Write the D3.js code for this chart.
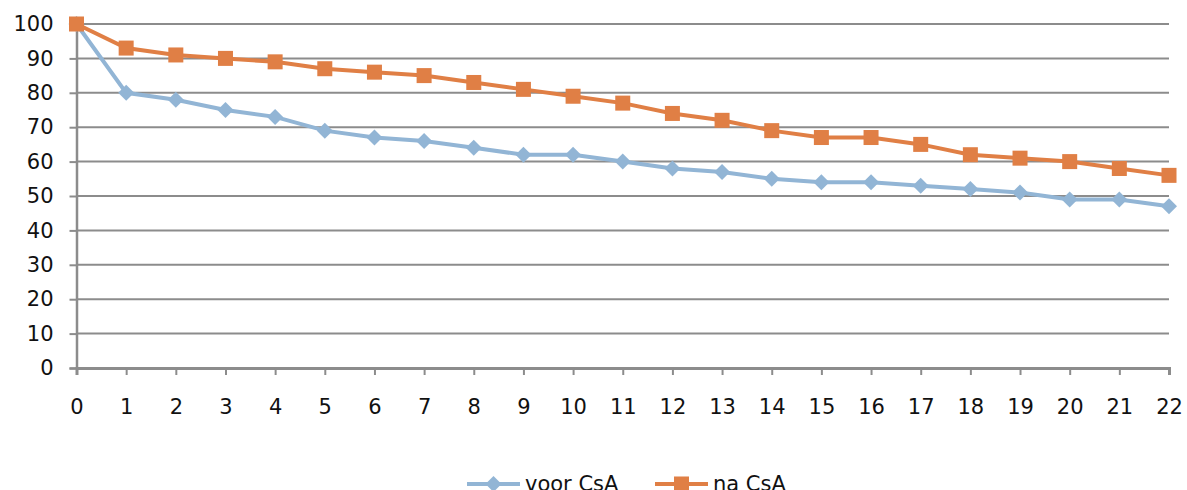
<!DOCTYPE html>
<html>
<head>
<meta charset="utf-8">
<script src="https://cdn.jsdelivr.net/npm/d3@7"></script>
<style>
  html, body { margin: 0; padding: 0; background: #fff; overflow: hidden; }
  svg text { font-family: "DejaVu Sans", "Lato", sans-serif; fill: #111; }
</style>
</head>
<body>
<svg id="chart" width="1187" height="490"></svg>
<script>
// Maanden na start
const months = d3.range(0, 23);
const yTicks = [0, 10, 20, 30, 40, 50, 60, 70, 80, 90, 100];
const seriesNames = ["voor CsA", "na CsA"];
const voorCsA = [100, 80, 78, 75, 73, 69, 67, 66, 64, 62, 62, 60, 58, 57, 55, 54, 54, 53, 52, 51, 49, 49, 47];
const naCsA   = [100, 93, 91, 90, 89, 87, 86, 85, 83, 81, 79, 77, 74, 72, 69, 67, 67, 65, 62, 61, 60, 58, 56];

const svg = d3.select("#chart");
const plotLeft = 76.5, plotRight = 1169, plotTop = 24, plotBottom = 368;
const fontSize = 21;

const x = d3.scaleLinear().domain([0, 22]).range([plotLeft, plotRight]);
const y = d3.scaleLinear().domain([0, 100]).range([plotBottom, plotTop]);

// horizontal grid lines
svg.append("g")
  .selectAll("line")
  .data(yTicks.filter(d => d > 0))
  .join("line")
  .attr("x1", plotLeft).attr("x2", plotRight)
  .attr("y1", d => y(d)).attr("y2", d => y(d))
  .attr("stroke", "#8c8c8c").attr("stroke-width", 2);

// y axis
const yAxis = svg.append("g")
  .attr("transform", `translate(${plotLeft},0)`)
  .call(d3.axisLeft(y).tickValues(yTicks).tickSize(7).tickPadding(16).tickFormat(d3.format("d")));
yAxis.select(".domain").attr("stroke", "#8c8c8c").attr("stroke-width", 2.5);
yAxis.selectAll(".tick line").attr("stroke", "#8c8c8c").attr("stroke-width", 2);
yAxis.selectAll("text").attr("font-size", fontSize).style("fill", "#111");

// x axis
const xAxis = svg.append("g")
  .attr("transform", `translate(0,${plotBottom})`)
  .call(d3.axisBottom(x).tickValues(months).tickSize(7).tickPadding(24).tickFormat(d3.format("d")));
xAxis.select(".domain").attr("stroke", "#8c8c8c").attr("stroke-width", 3);
xAxis.selectAll(".tick line").attr("stroke", "#8c8c8c").attr("stroke-width", 2);
xAxis.selectAll("text").attr("font-size", fontSize).style("fill", "#111");

const colors = ["#92B5D5", "#E07F45"];
const line = d3.line().x((d, i) => x(months[i])).y(d => y(d));

function diamond(g, cx, cy, r, color) {
  g.append("path")
    .attr("d", `M${cx},${cy - r}L${cx + r},${cy}L${cx},${cy + r}L${cx - r},${cy}Z`)
    .attr("fill", color);
}
function square(g, cx, cy, s, color) {
  g.append("rect")
    .attr("x", cx - s / 2).attr("y", cy - s / 2)
    .attr("width", s).attr("height", s)
    .attr("fill", color);
}

// voor CsA series
const g1 = svg.append("g");
g1.append("path").datum(voorCsA).attr("d", line)
  .attr("fill", "none").attr("stroke", colors[0]).attr("stroke-width", 4);
voorCsA.forEach((v, i) => diamond(g1, x(months[i]), y(v), 8, colors[0]));

// na CsA series
const g2 = svg.append("g");
g2.append("path").datum(naCsA).attr("d", line)
  .attr("fill", "none").attr("stroke", colors[1]).attr("stroke-width", 4);
naCsA.forEach((v, i) => square(g2, x(months[i]), y(v), 15, colors[1]));

// legend
const legend = svg.append("g");
const ly = 484;
const items = [{ x0: 467, name: seriesNames[0], color: colors[0], shape: "d" },
               { x0: 655, name: seriesNames[1], color: colors[1], shape: "s" }];
items.forEach(it => {
  legend.append("line").attr("x1", it.x0).attr("x2", it.x0 + 53)
    .attr("y1", ly).attr("y2", ly)
    .attr("stroke", it.color).attr("stroke-width", 4);
  if (it.shape === "d") diamond(legend, it.x0 + 26.5, ly, 8, it.color);
  else square(legend, it.x0 + 26.5, ly, 15, it.color);
  legend.append("text").attr("x", it.x0 + 58).attr("y", ly + 7)
    .attr("font-size", fontSize).text(it.name);
});
</script>
</body>
</html>
